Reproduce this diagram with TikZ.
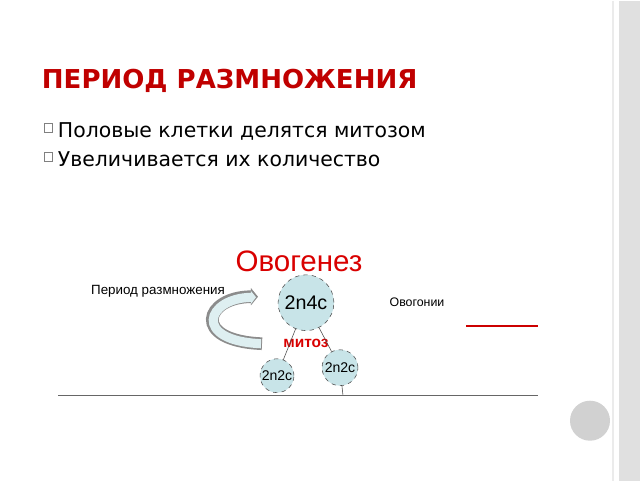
\documentclass[tikz,border=0pt]{standalone}
\usepackage{fontspec}
\setmainfont{DejaVu Sans}
\newfontfamily\arialfont{Liberation Sans}
\usetikzlibrary{arrows.meta,positioning}
\definecolor{titlered}{RGB}{192,0,0}
\definecolor{cellblue}{RGB}{200,228,232}
\begin{document}
\begin{tikzpicture}[x=0.025cm,y=-0.025cm,
    cell/.style={circle,draw=black!70,dashed,fill=cellblue,inner sep=0,font=\arialfont},
    bullet/.style={draw=gray,minimum size=6pt,inner sep=0},
    small/.style={font=\arialfont\fontsize{8.8}{10}\selectfont}]
    % Slide background
    \fill[white] (0,0) rectangle (640,480);
    \fill[black!12] (619,0) rectangle (640,480);
    \draw[black!8,line width=1pt] (613,0) -- (613,480);
    \fill[black!18] (590,420) circle (20);

    % Title and bullets
    \node[anchor=base west,text=titlered,font=\bfseries\fontsize{18.5}{20}\selectfont] (title) at (37,88) {ПЕРИОД РАЗМНОЖЕНИЯ};
    \node[bullet] (b1) at (48,127) {};
    \node[anchor=base west,font=\fontsize{14.5}{16}\selectfont] (t1) at (53,137) {Половые клетки делятся митозом};
    \node[bullet] (b2) at (48,156) {};
    \node[anchor=base west,font=\fontsize{14.5}{16}\selectfont] (t2) at (53,166) {Увеличивается их количество};

    % Diagram
    \node[text=red!85!black,font=\arialfont\fontsize{21}{22}\selectfont] (ovo) at (299,261) {Овогенез};
    \node[font=\arialfont\fontsize{9.5}{10}\selectfont] (period) at (158,291) {Период размножения};
    \node[small] (ovogonii) at (417,302) {Овогонии};
    \node[cell,minimum size=56*0.709pt,font=\arialfont\fontsize{14}{15}\selectfont] (big) at (306,302) {2n4c};
    \node[cell,minimum size=34*0.709pt,font=\arialfont\fontsize{10}{11}\selectfont] (left) at (277,375) {2n2c};
    \node[cell,minimum size=36*0.709pt,font=\arialfont\fontsize{10}{11}\selectfont] (right) at (340,367) {2n2c};
    \node[text=red!85!black,font=\arialfont\bfseries\fontsize{11}{12}\selectfont] (mitoz) at (306,343) {митоз};
    \coordinate (base) at (343,395);
    \draw[black!70,thin] (big) -- (left);
    \draw[black!70,thin] (big) -- (right);
    \draw[black!70,thin] (right) -- (base);

    % Cycle arrow
    \draw[line width=9pt,black!45,-{Triangle[length=5pt,width=12pt]}] (262,343) .. controls (190,340) and (205,296) .. (258,296);
    \draw[line width=6.5pt,cellblue!60!white,-{Triangle[length=3.6pt,width=9pt]}] (261,343) .. controls (192,340) and (206,297.5) .. (256,296.5);

    % Lines
    \coordinate (r1) at (466,325);
    \coordinate (r2) at (538,325);
    \draw[red!80!black,line width=1.2pt] (r1) -- (r2);
    \coordinate (h1) at (58,395);
    \coordinate (h2) at (538,395);
    \draw[black!60,line width=0.8pt] (h1) -- (h2);
\end{tikzpicture}
\end{document}
